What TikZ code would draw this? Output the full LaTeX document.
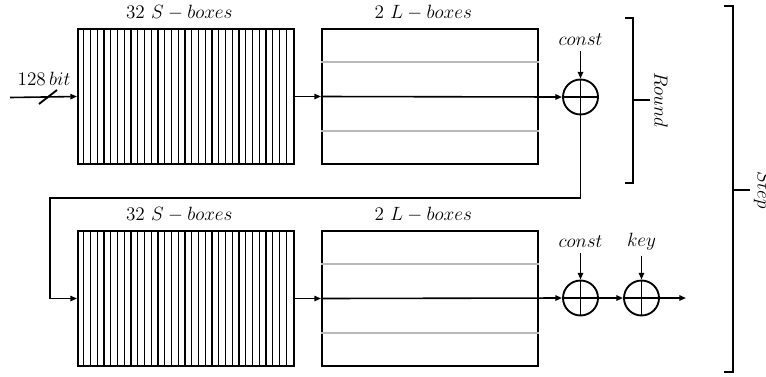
\documentclass[tikz,border=0pt]{standalone}
\usetikzlibrary{arrows.meta, positioning}
\tikzset{>={Triangle[length=5pt, width=4pt]}}

\begin{document}
\begin{tikzpicture}[x = 0.75pt, y = -0.75pt, line width = 1.2pt,
    every node/.style = {font = \fontsize{14.4}{17}\selectfont},
    blockbox/.style = {draw, line width = 1.5pt, minimum width = 162pt, minimum height = 101.25pt, inner sep = 0pt},
    xorc/.style = {draw, circle, line width = 1.4pt, minimum size = 26.25pt, inner sep = 0pt},
    bracelab/.style = {rotate = -90, inner sep = 0pt}]
    \useasboundingbox (0,0) rectangle (766,376);

    % first round
    \node[blockbox] (S1) at (186, 96.5) {};
    \node[blockbox] (L1) at (430, 96.5) {};
    \node[xorc] (X1) at (580.5, 97) {};
    % second round
    \node[blockbox] (S2) at (186, 298.5) {};
    \node[blockbox] (L2) at (430, 298.5) {};
    \node[xorc] (X2) at (580.5, 298) {};
    \node[xorc] (K) at (641.5, 298) {};

    % S-box stripes and L-box lines
    \foreach \s in {S1, S2}
        \foreach \i in {1,...,31}
            \draw[line width = 1.1pt] ([xshift = \i*5.0625pt]\s.north west) -- ([xshift = \i*5.0625pt]\s.south west);
    \foreach \l in {L1, L2} {
        \draw[gray!55, line width = 1.4pt] ([yshift = -25.3pt]\l.north west) -- ([yshift = -25.3pt]\l.north east);
        \draw[gray!55, line width = 1.4pt] ([yshift = 25.3pt]\l.south west) -- ([yshift = 25.3pt]\l.south east);
    }
    \foreach \x in {X1, X2, K}
        \draw (\x.north) -- (\x.south) (\x.west) -- (\x.east);

    % labels
    \node[above = 2pt of S1, xshift = -5pt] (sl1) {$32\ S-boxes$};
    \node[above = 2pt of L1, xshift = -5pt] (ll1) {$2\ L-boxes$};
    \node[above = 2pt of S2, xshift = -5pt] (sl2) {$32\ S-boxes$};
    \node[above = 2pt of L2, xshift = -5pt] (ll2) {$2\ L-boxes$};
    \node (c1) at (580.5, 40) {$const$};
    \node (c2) at (580.5, 242) {$const$};
    \node (key) at (641.5, 242) {$key$};
    \node (bits) at (44, 79) {$128\,bit$};

    % connectors
    \coordinate (in) at (10, 97.5);
    \coordinate (fb) at (50, 198);
    \coordinate (out) at (686, 298);
    \draw[->] (in) -- (S1.west);
    \draw[line width = 1.4pt] (39, 104) -- (57, 90);
    \draw[->] (S1) -- (L1);
    \draw[->] (L1.west) -- (X1.west);
    \draw[->] (c1) -- (X1);
    \draw[->] (X1.south) |- (fb) |- (S2.west);
    \draw[->] (S2) -- (L2);
    \draw[->] (L2.west) -- (X2.west);
    \draw[->] (c2) -- (X2);
    \draw[->] (key) -- (K);
    \draw[->] (X2) -- (K);
    \draw[->] (K) -- (out);

    % braces
    \draw[line width = 1.4pt] (625, 18) -- (633, 18) -- (633, 183) -- (625, 183);
    \draw[line width = 1.4pt] (633, 100) -- (650, 100);
    \node[bracelab] (round) at (661, 100) {$Round$};
    \draw[line width = 1.4pt] (724, 6) -- (733, 6) -- (733, 372) -- (724, 372);
    \draw[line width = 1.4pt] (733, 190) -- (750, 190);
    \node[bracelab, anchor = south] (step) at (753, 190) {$Step$};
\end{tikzpicture}
\end{document}
